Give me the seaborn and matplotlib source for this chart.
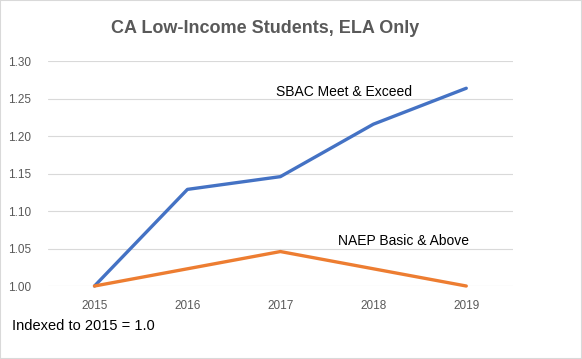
import matplotlib
matplotlib.use('Agg')
import matplotlib.pyplot as plt
import seaborn as sns
import pandas as pd
from matplotlib.patches import Rectangle

# data
years = ['2015', '2016', '2017', '2018', '2019']
sbac = [1.000, 1.129, 1.146, 1.216, 1.264]
naep = [1.000, 1.023, 1.046, 1.023, 1.000]
series_names = ['SBAC Meet & Exceed', 'NAEP Basic & Above']
y_ticks = [1.00, 1.05, 1.10, 1.15, 1.20, 1.25, 1.30]

df = pd.DataFrame({
    'Year': years * 2,
    'Index': sbac + naep,
    'Series': [series_names[0]] * len(years) + [series_names[1]] * len(years),
})

sns.set_theme(style="white")
plt.rcParams['font.family'] = ['Liberation Sans', 'DejaVu Sans']

fig = plt.figure(figsize=(5.82, 3.59), dpi=100)
ax = fig.add_axes([0.0825, 0.2033, 0.7985, 0.6260])

sns.lineplot(data=df, x='Year', y='Index', hue='Series',
             palette=['#4472C4', '#ED7D31'], linewidth=2.4,
             sort=False, legend=False, ax=ax, clip_on=False)

ax.set_xlim(-0.5, len(years) - 0.5)
ax.set_ylim(y_ticks[0], y_ticks[-1])
ax.set_yticks(y_ticks)
ax.set_yticklabels([f"{v:.2f}" for v in y_ticks])
ax.yaxis.grid(True, color='#d9d9d9', linewidth=0.8)
ax.set_axisbelow(True)
for s in ax.spines.values():
    s.set_visible(False)
ax.tick_params(axis='both', length=0, labelsize=8.5, colors='#595959')
ax.tick_params(axis='y', pad=12)
ax.tick_params(axis='x', pad=10)
ax.set_xlabel('')
ax.set_ylabel('')

# series labels
ax.text(2.68, 1.259, series_names[0], ha='center', va='center', fontsize=10, color='black')
ax.text(3.32, 1.060, series_names[1], ha='center', va='center', fontsize=10, color='black')

fig.text(0.455, 0.922, 'CA Low-Income Students, ELA Only', ha='center', va='center',
         fontsize=13, fontweight='bold', color='#595959')
fig.text(0.021, 0.093, 'Indexed to 2015 = 1.0', ha='left', va='center',
         fontsize=10.5, color='black')

# chart border
fig.patches.append(Rectangle((0, 0), 1, 1, transform=fig.transFigure, fill=False,
                             edgecolor='#d9d9d9', linewidth=1.5))

fig.savefig('out.png', dpi=100)
